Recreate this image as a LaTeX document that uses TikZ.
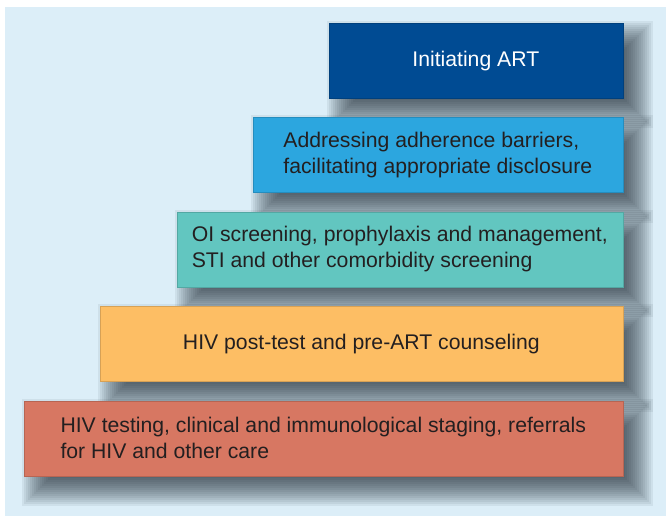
\documentclass[tikz,border=0pt]{standalone}
\usepackage{fontspec}
\setmainfont{Liberation Sans}
\usetikzlibrary{positioning}
\usetikzlibrary{calc}
\pgfdeclarelayer{background}
\pgfsetlayers{background,main}

\definecolor{panelbg}{HTML}{DCEEF8}
\definecolor{artblue}{HTML}{004B93}
\definecolor{skyblue}{HTML}{2CA6DF}
\definecolor{tealstep}{HTML}{62C6C0}
\definecolor{orangestep}{HTML}{FDBE64}
\definecolor{salmonstep}{HTML}{D77762}
\definecolor{steptext}{HTML}{231F20}
\definecolor{shadowgrey}{HTML}{17222C}

% soft shadow: a stack of faint rectangles, each a bit smaller
\newcommand{\stairshadow}[1]{
  \foreach \k in {0,...,15}{
    \fill[shadowgrey, opacity=0.066]
      ($(#1.south west)+(-2+2*\k,-30+2*\k)$) rectangle ($(#1.north east)+(30-2*\k,2-2*\k)$);
  }
}

\tikzset{
  stair/.style={rectangle, anchor=north east, minimum height=75pt,
    inner sep=0pt, align=left, text=steptext, draw=#1!85!black, line width=0.4pt,
    fill=#1, font=\fontsize{21.2}{26}\selectfont},
}

\begin{document}
\begin{tikzpicture}[x=1pt,y=1pt]
        \useasboundingbox (0,0) rectangle (666,516);

        % steps, top one first
        \node[stair=artblue, minimum width=294pt, text=white] (init) at (623,493) {Initiating ART};
        \node[stair=skyblue, minimum width=370pt, below=19pt of init.south east, anchor=north east] (adher)
            {Addressing adherence barriers,\\facilitating appropriate disclosure};
        \node[stair=tealstep, minimum width=446pt, below=19pt of adher.south east, anchor=north east] (oiscr)
            {OI screening, prophylaxis and management,\\STI and other comorbidity screening};
        \node[stair=orangestep, minimum width=523pt, below=19pt of oiscr.south east, anchor=north east] (counsel)
            {HIV post-test and pre-ART counseling};
        \node[stair=salmonstep, minimum width=599pt, below=19pt of counsel.south east, anchor=north east] (testing)
            {HIV testing, clinical and immunological staging, referrals\\for HIV and other care};

        \begin{pgfonlayer}{background}
          \fill[panelbg] (5,0) rectangle (666,509);
          \foreach \s in {init,adher,oiscr,counsel,testing}{
            \stairshadow{\s}
          }
        \end{pgfonlayer}
\end{tikzpicture}
\end{document}
